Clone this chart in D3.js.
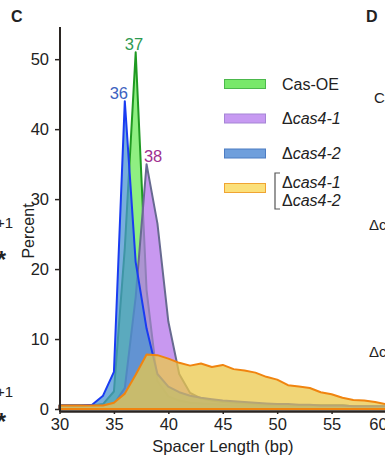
<!DOCTYPE html>
<html>
<head>
<meta charset="utf-8">
<script src="https://cdn.jsdelivr.net/npm/d3@7"></script>
<style>
  body { margin: 0; background: #fff; }
  svg { font-family: Arial, "Liberation Sans", sans-serif; }
</style>
</head>
<body>
<svg width="385" height="464"></svg>
<script>
// spacer length (bp), one value per integer length
const lengths = d3.range(30, 61);

const casOE = [0.5, 0.5, 0.5, 0.5, 0.7, 2.5, 23, 51, 17, 4, 1.8, 1.2, 0.9, 0.8, 0.7, 0.6,
  0.5, 0.5, 0.5, 0.5, 0.5, 0.5, 0.5, 0.5, 0.5, 0.5, 0.5, 0.4, 0.4, 0.4, 0.4];
const cas4a = [0.5, 0.5, 0.5, 0.5, 0.5, 0.7, 3, 16, 35, 26.5, 12.5, 5, 2.3, 1.5, 1.2, 1.0,
  0.9, 0.8, 0.7, 0.6, 0.6, 0.5, 0.5, 0.5, 0.5, 0.5, 0.5, 0.4, 0.4, 0.4, 0.4];
const cas4b = [0.5, 0.5, 0.5, 0.6, 1.9, 5.3, 44, 21, 11.5, 5, 3.2, 2.4, 1.9, 1.6, 1.4, 1.2,
  1.1, 1.0, 0.9, 0.8, 0.7, 0.7, 0.6, 0.6, 0.5, 0.5, 0.5, 0.4, 0.4, 0.4, 0.4];
const cas4ab = [0.5, 0.5, 0.5, 0.5, 0.5, 0.9, 2.2, 4.9, 7.8, 7.7, 7.2, 6.6, 6.2, 6.5, 6.0, 6.3,
  5.7, 5.5, 5.2, 4.6, 4.2, 3.4, 3.2, 3.0, 2.4, 2.1, 1.6, 1.3, 1.2, 1.0, 0.7];

const xTicks = [30, 35, 40, 45, 50, 55, 60];
const yTicks = [0, 10, 20, 30, 40, 50];

const series = [
  { name: 'Cas-OE', values: casOE, fill: '#6aea58', stroke: '#1f9a22', sw: '#78e86a', swStroke: '#4cb84c' },
  { name: 'cas4-1', values: cas4a, fill: '#b575eb', stroke: '#676a90', sw: '#c79af2', swStroke: '#a585d5' },
  { name: 'cas4-2', values: cas4b, fill: '#4a93d2', stroke: '#1a3cf2', sw: '#6f9fdc', swStroke: '#4d7cc2' },
  { name: 'both', values: cas4ab, fill: '#ebc84b', stroke: '#f0840f', sw: '#fbe07a', swStroke: '#f0a432' }
];

// peak labels: [label x, percent, text, colour]
const peaks = [
  [36.85, 51, '37', '#2e9a50'],
  [35.45, 44, '36', '#3c62c0'],
  [38.6, 35, '38', '#a03090']
];

const svg = d3.select('svg');
const axisColor = '#2a2522';

const x = d3.scaleLinear().domain([30, 60]).range([59.5, 386]);
const y = d3.scaleLinear().domain([0, 54.6]).range([409, 27]);

// areas
const area = d3.area()
  .x((d, i) => x(lengths[i]))
  .y0(y(0))
  .y1(d => y(d));

series.forEach(s => {
  svg.append('path')
    .datum(s.values)
    .attr('d', area)
    .attr('fill', s.fill)
    .attr('fill-opacity', 0.75)
    .attr('stroke', s.stroke)
    .attr('stroke-width', 2)
    .attr('stroke-linejoin', 'round');
});

// axes
const xAxis = svg.append('g')
  .attr('transform', `translate(0,${y(0) + 2})`)
  .call(d3.axisBottom(x).tickValues(xTicks).tickSize(3).tickPadding(4).tickSizeOuter(0));

const yAxis = svg.append('g')
  .attr('transform', 'translate(60,0)')
  .call(d3.axisLeft(y).tickValues(yTicks).tickSize(5).tickPadding(6).tickSizeOuter(0));

[xAxis, yAxis].forEach(g => {
  g.selectAll('text').attr('font-size', 16.5).attr('fill', '#222').attr('font-family', 'Arial, "Liberation Sans", sans-serif');
  g.selectAll('line').attr('stroke', axisColor).attr('stroke-width', 1.5);
  g.select('.domain').attr('stroke', axisColor).attr('stroke-width', 2.5);
});
yAxis.select('.domain').attr('d', `M0,${y(0) + 3}V27`).attr('stroke-width', 2);
// the last label sits a little inside the frame edge
xAxis.selectAll('.tick text').filter(d => d === 60).attr('dx', -8);

// axis titles
svg.append('text')
  .attr('x', 223)
  .attr('y', 452)
  .attr('text-anchor', 'middle')
  .attr('font-size', 16.5)
  .attr('fill', '#222')
  .text('Spacer Length (bp)');

svg.append('text')
  .attr('transform', 'translate(34,231) rotate(-90)')
  .attr('text-anchor', 'middle')
  .attr('font-size', 16)
  .attr('fill', '#222')
  .text('Percent');

// peak labels
peaks.forEach(p => {
  svg.append('text')
    .attr('x', x(p[0]))
    .attr('y', y(p[1]) - 2.5)
    .attr('text-anchor', 'middle')
    .attr('font-size', 16.5)
    .attr('fill', p[3])
    .text(p[2]);
});

// legend
const legend = svg.append('g');
const rowY = [84, 118.5, 153.5, 188];
series.forEach((s, i) => {
  legend.append('rect')
    .attr('x', 224.5)
    .attr('y', rowY[i] - 4.5)
    .attr('width', 41)
    .attr('height', 9)
    .attr('fill', s.sw)
    .attr('stroke', s.swStroke)
    .attr('stroke-width', 1);
});

legend.append('text').attr('x', 282).attr('y', 89.5).attr('font-size', 16).attr('fill', '#222').text('Cas-OE');

function deltaLabel(xp, yp, label) {
  const t = legend.append('text').attr('x', xp).attr('y', yp).attr('font-size', 16).attr('fill', '#222');
  t.append('tspan').text('Δ');
  t.append('tspan').attr('font-style', 'italic').text(label);
}
deltaLabel(282, 124, 'cas4-1');
deltaLabel(282, 159, 'cas4-2');
deltaLabel(282, 187.5, 'cas4-1');
deltaLabel(282, 205.5, 'cas4-2');

legend.append('path')
  .attr('d', 'M280,173H275V209H280')
  .attr('fill', 'none')
  .attr('stroke', '#555')
  .attr('stroke-width', 1.2);

// panel letters and fragments of the neighbouring panels
svg.append('text').attr('x', 11).attr('y', 21.5).attr('font-size', 16).attr('font-weight', 'bold').attr('fill', '#222').text('C');
svg.append('text').attr('x', 366).attr('y', 22).attr('font-size', 16).attr('font-weight', 'bold').attr('fill', '#222').text('D');
svg.append('text').attr('x', 374).attr('y', 103).attr('font-size', 15).attr('fill', '#222').text('Cas');
svg.append('text').attr('x', 369).attr('y', 230).attr('font-size', 15).attr('fill', '#222').text('Δcas4');
svg.append('text').attr('x', 369).attr('y', 357).attr('font-size', 15).attr('fill', '#222').text('Δcas4');

[228, 396.5].forEach(v => {
  svg.append('text').attr('x', 13).attr('y', v).attr('text-anchor', 'end').attr('font-size', 15).attr('fill', '#222').text('+1');
});
[268, 430].forEach(v => {
  svg.append('text').attr('x', 6).attr('y', v).attr('text-anchor', 'end').attr('font-size', 24).attr('font-weight', 'bold').attr('fill', '#222').text('*');
});
</script>
</body>
</html>
